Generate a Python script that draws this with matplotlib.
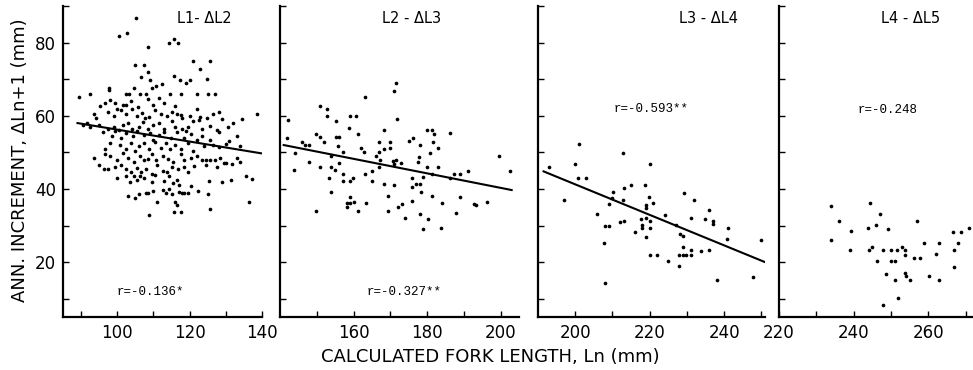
import matplotlib
matplotlib.use("Agg")
import matplotlib.pyplot as plt
from matplotlib.ticker import FixedLocator

# ---------------- data ----------------
p1_x = [105.3, 100.6, 102.7, 108.5, 114.3, 115.6, 116.8,
        121, 125.6, 104.8, 107.3, 122.9, 108.4,
        106.5, 109, 115.6, 117.2, 119, 120, 124.9,
        97.6, 97.8, 104.5, 109.6, 110.8, 112.4, 92.5, 89.5, 102.3, 103.3, 106.2, 107.9, 114.7, 117.5, 121.9, 125.1, 126.9,
        95.3, 98, 99.5, 101.5, 102.5, 103.8, 105.8, 108.5, 109.8, 111.5, 113, 116, 96.5, 100,
        93.5, 94, 97.5, 99, 101, 102.3, 104, 105.5, 106.8, 107.8, 108.8, 110.5, 112, 113.8, 115, 116.5, 117.5, 118, 120,
        121.9, 123, 124.7, 126.5, 128, 129, 134.5, 138.7, 122.5,
        90.5, 91.5, 92.5, 95, 97.3, 99, 100.5, 101.5, 103, 104, 106, 107, 108.5, 110, 111.5, 113, 115, 116, 117.8, 119.5,
        121, 123.5, 125.5, 127.5, 130.5, 132,
        96, 98.5, 99.5, 101, 102.5, 104.3, 105.5, 107.5, 109, 110, 111.5, 113, 114.8, 116.5, 118.5, 120.5, 122, 123.5,
        125.5, 128, 131, 133, 119,
        96.5, 98, 100.8, 102.5, 103.8, 105, 106, 107.5, 108.8, 110.5, 112, 113.5, 114.5, 116, 117.5, 119.5, 121, 124,
        126.5, 128, 130, 133.8,
        93.5, 96.5, 98, 100, 101.5, 103, 104.5, 106.3, 107.5, 108.6, 109.5, 110.8, 112.5, 114, 115.5, 117.5, 118.5, 120.5,
        122, 123.5, 124.5, 125.5, 127, 128.5, 130, 131.8, 133, 134,
        95, 96.3, 97.5, 99.5, 101, 102.3, 103.8, 104.5, 105.5, 106.5, 108, 109.5, 111, 112.5, 113.8, 115, 116.8, 118.5,
        119.5, 121.2, 124.5, 127.5, 129.5,
        100, 102.5, 103.5, 105.5, 107.3, 109.5, 110.5, 112.8, 114.3, 115.5, 116.5, 117, 120.5, 125.3, 128.9, 131.3,
        135.5, 137.3, 106.3,
        103, 105, 106, 108.5, 110, 111, 112.5, 113.5, 115, 116, 117, 117.8, 118.5, 119.5, 122.3, 125.2, 136.5, 108, 114.3,
        108.7, 115.7, 117.5, 125.7, 116.5]
p1_y = [86.8, 81.7, 82.6, 78.7, 79.9, 80.9, 79.9,
        74.9, 75, 73.8, 73.8, 72.7, 72,
        70.6, 69.7, 70.9, 69.7, 69, 69.7, 70,
        67.7, 67, 67.7, 67.7, 68.2, 68.6, 66, 65, 66, 66, 65.9, 66, 66, 66, 66, 66, 66,
        62.7, 64.3, 63.5, 63, 63, 64, 62.5, 64.5, 63, 64.8, 63.5, 62.8, 63.5, 61.8,
        60.5, 59.5, 61, 60, 61.5, 60.5, 61.8, 60, 60.8, 59.5, 59.6, 61.5, 60.5, 59.8, 61, 60.6, 60.3, 59.5, 59.8,
        61.8, 59.7, 59.5, 60.5, 61, 59, 59, 60.6, 58.8,
        57.5, 58, 57, 57.5, 56.5, 57, 56, 57.5, 58, 56.3, 57, 58.3, 56.5, 57.5, 58, 56.5, 58.5, 57, 56.5, 57,
        58.5, 56.5, 57.3, 56, 57, 58,
        55.5, 54.5, 55.8, 54, 55.3, 54.5, 55.8, 54.8, 55.3, 53.5, 54.8, 55.5, 54, 55.5, 53.8, 55, 53.5, 54.5,
        53.3, 55.5, 53, 54.5, 55.8,
        51, 52.5, 52, 51, 52.5, 50.5, 51.8, 52.5, 51, 52.8, 51.2, 52.5, 50.8, 52, 51, 52.5, 50.5, 51.8,
        52, 51.5, 52.3, 51.8,
        48.5, 49.5, 49, 48, 49.8, 48.5, 47.5, 49, 48, 48.2, 49.5, 47.8, 49, 48.2, 47.5, 49.5, 48, 48.5,
        49, 48, 48, 48, 47.8, 48.5, 47, 46.8, 48.5, 47.5,
        46.5, 45.5, 45.5, 46, 46.5, 45.5, 44.5, 43.5, 45.8, 44.5, 45.5, 44, 46.5, 45, 44.5, 46, 45.5, 46,
        44.5, 46.3, 46.5, 46, 47.2,
        43, 43.5, 42, 42.5, 43, 42, 43.8, 42.3, 43.5, 41.5, 42.5, 41, 40.8, 42.3, 41.8, 42.5,
        43.6, 42.8, 43.5,
        38, 37.5, 38.5, 39, 39.5, 36.5, 39.8, 39, 38.5, 36.5, 39.2, 38.8, 39, 38.8, 39.5, 38.7, 36.5, 38.8, 40,
        33, 33.7, 33.7, 34.5, 35.5]

p2_x = [142.2, 142, 144, 143.8, 146.1, 146.7, 147.9, 147.8, 149.9, 151, 152.8, 152.8, 151, 151.9, 151, 149.9,
        153.8, 153.2, 153.8, 153.8, 154.9, 155.1, 155.2, 156.1, 155.8, 157, 156.1, 157.2, 157, 159, 158.8, 160.8,
        161.2, 161.9, 162.9, 159, 159.9, 159, 158.1, 159, 160.1, 158.3, 161.3, 163.3, 163, 163, 164.9, 165, 166,
        167, 167, 167.2, 167, 168.2, 168.2, 168.2, 169.3, 169.3, 169.8, 169.8, 170.9, 171.6, 171.9, 170.6, 171.6,
        170.9, 173, 170.9, 172.1, 173.3, 173.9, 175, 176.2, 175.8, 175.8, 175.9, 177.1, 178, 178.2, 177.8, 177.5,
        178.4, 178.9, 178, 178.9, 180.2, 180.1, 181.4, 181.8, 181.6, 180.7, 180, 183, 183, 181.4, 181.4, 184.1,
        183.9, 186.1, 186.1, 187.2, 188.9, 188.9, 188, 191.1, 192.8, 193.2, 196.3, 199.5, 202.6]
p2_y = [58.9, 53.9, 49.7, 45.2, 52.8, 52, 52, 47.5, 54.9, 62.7, 61.9, 59.8, 54.2, 52.8, 46.1, 34,
        49, 43, 39.1, 45.9, 45.1, 58.5, 54.1, 54.1, 51.7, 50.1, 47.2, 44.1, 42.2, 59.8, 56.7, 59.8,
        54.9, 51.3, 50.1, 42.2, 43, 37.9, 36.1, 36.1, 36.4, 35, 34.1, 36.1, 44.1, 65, 44.9, 42.1, 49,
        52.8, 50.1, 47.9, 45.9, 51, 56, 41.4, 38, 34.1, 51.3, 52.8, 66.8, 69, 59.1, 47.7, 47.9,
        46.8, 47, 41, 35, 36, 32.1, 53.1, 54, 40.5, 36.8, 43, 41.4, 41.4, 52, 48.7, 47.5,
        39.1, 43.2, 33.1, 29, 31.9, 56, 56, 54.9, 52.8, 49.7, 46, 51.1, 45.9, 44.2, 38, 36.1,
        29.2, 55.3, 43, 44.1, 44.1, 37.9, 33.4, 45, 35.9, 35.7, 36.4, 49, 45]

p3_x = [193, 197, 199.9, 200.9, 200.8, 202.9, 205.9, 207.9, 209, 207.8, 207.9, 209, 209.9, 210.1, 212.8, 213,
        212.8, 212.1, 213.1, 214.9, 216.2, 217.7, 218, 218, 218.8, 218.9, 218.9, 218.9, 218.9, 220, 219.8, 220,
        220, 220, 220.9, 221.9, 224.1, 225, 227, 228.1, 229, 227.9, 227.9, 229, 229.9, 231.1, 229, 229.2, 231.1,
        231.1, 232, 233.8, 235, 236, 236, 237, 237, 238, 241, 240.7, 247.9, 250]
p3_y = [46, 37.1, 46.9, 52.3, 42.9, 42.9, 33.2, 29.9, 29.9, 25.3, 14.3, 35.9, 37.5, 39.1, 49.9, 40.2,
        36.9, 31, 31.2, 41.2, 28.1, 31.9, 30.1, 29.2, 41.1, 35.7, 34.8, 32.1, 27, 46.9, 37.9, 31.2,
        29.4, 22, 36.2, 22, 32.8, 20.4, 30.1, 27.8, 27.2, 19, 22, 22, 22, 22, 24.2, 38.8, 32.1,
        23.4, 37, 23.1, 31.9, 34.2, 23.2, 31.2, 30.3, 15.1, 29.2, 26.2, 16, 26]

p4_x = [234, 234, 236.1, 239.4, 239.1, 244.3, 243.9, 244, 244.9, 245.9, 246.2, 247.2, 247.9, 249.1, 248.8, 247.9,
        249.9, 250.1, 251, 251, 251.6, 251.9, 252.9, 253.9, 253.9, 253.7, 254, 255.1, 256.2, 257, 257.7, 258.8,
        260.3, 262.2, 262.9, 262.8, 266.7, 267, 266.9, 268, 268.9, 270.9]
p4_y = [35.3, 26, 31.3, 28.5, 23.2, 36.2, 29.2, 23.2, 24.2, 30.1, 20.2, 33.1, 23.2, 29, 16.8, 8.3,
        23.3, 20.2, 20.2, 15, 23.2, 10.3, 24.2, 23.2, 22, 17, 16.1, 15.2, 21.1, 31.2, 21.1, 25.3,
        16.3, 22.3, 25.3, 15.2, 28.3, 23.2, 18.6, 25.3, 28.3, 29.2]

# regression line end points
line1_x, line1_y = [89, 140], [58, 49.7]
line2_x, line2_y = [141, 203], [52, 39.7]
line3_x, line3_y = [191.5, 251], [44.8, 20]

titles = ["L1- ΔL2", "L2 - ΔL3", "L3 - ΔL4", "L4 - ΔL5"]
r_texts = ["r=-0.136*", "r=-0.327**", "r=-0.593**", "r=-0.248"]

xlims = [(85, 140), (140, 205), (190, 251), (220, 272)]
x_major = [[100, 120, 140], [160, 180, 200], [200, 220, 240], [220, 240, 260]]
x_minor = [[90, 110, 130], [150, 170, 190], [210, 230, 250], [230, 250, 270]]
y_major = [20, 40, 60, 80]
y_minor = [10, 30, 50, 70, 90]

# ---------------- layout ----------------
W, H = 973, 370
fig = plt.figure(figsize=(W / 100, H / 100), dpi=100)
bottom_px, top_px = 317, 6
panels_px = [(63, 262), (280, 519), (538, 765), (779, 973)]
r_pos = [(0.44, 0.08), (0.52, 0.08), (0.50, 0.67), (0.56, 0.665)]
title_x = [0.71, 0.55, 0.75, 0.68]

series = [(p1_x, p1_y), (p2_x, p2_y), (p3_x, p3_y), (p4_x, p4_y)]
lines = [(line1_x, line1_y), (line2_x, line2_y), (line3_x, line3_y), None]

for i, (l, r) in enumerate(panels_px):
    ax = fig.add_axes([l / W, 1 - bottom_px / H, (r - l) / W, (bottom_px - top_px) / H])
    xs, ys = series[i]
    ax.scatter(xs, ys, s=7, c="black", marker="o", linewidths=0, zorder=3)
    if lines[i] is not None:
        lx, ly = lines[i]
        ax.plot(lx, ly, color="black", lw=1.5, zorder=2)
    ax.set_xlim(*xlims[i])
    ax.set_ylim(5, 90)
    for s in ("top", "right"):
        ax.spines[s].set_visible(False)
    for s in ("left", "bottom"):
        ax.spines[s].set_linewidth(1.6)
    ax.xaxis.set_major_locator(FixedLocator(x_major[i]))
    ax.xaxis.set_minor_locator(FixedLocator(x_minor[i]))
    ax.yaxis.set_major_locator(FixedLocator(y_major))
    ax.yaxis.set_minor_locator(FixedLocator(y_minor))
    ax.tick_params(which="both", direction="in", length=4, width=1.0, colors="black")
    ax.tick_params(axis="x", which="major", labelsize=12, pad=5)
    ax.tick_params(axis="y", which="major", labelsize=12, pad=5)
    if i > 0:
        ax.set_yticklabels([])
    ax.text(title_x[i], 0.96, titles[i], transform=ax.transAxes, ha="center", va="center",
            fontsize=10.5, family="DejaVu Sans")
    ax.text(r_pos[i][0], r_pos[i][1], r_texts[i], transform=ax.transAxes, ha="center", va="center",
            fontsize=9, family="Liberation Mono")

fig.text(490 / W, 1 - 357 / H, "CALCULATED FORK LENGTH, Ln (mm)", ha="center", va="center",
         fontsize=13, family="DejaVu Sans")
fig.text(20 / W, 1 - 160 / H, "ANN. INCREMENT, ΔLn+1 (mm)", ha="center", va="center",
         rotation=90, fontsize=13, family="DejaVu Sans")

fig.savefig("out.png", dpi=100)
